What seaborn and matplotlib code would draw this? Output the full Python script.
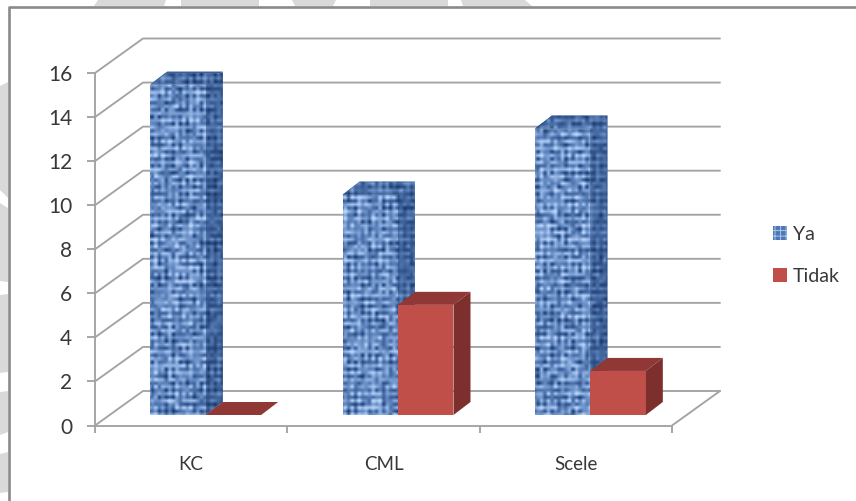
import numpy as np
import pandas as pd
import matplotlib
matplotlib.use("Agg")
import matplotlib.pyplot as plt
import seaborn as sns
from matplotlib.colors import LinearSegmentedColormap
from matplotlib.patches import Patch, Polygon
from matplotlib.transforms import Affine2D, IdentityTransform

categories = ["KC", "CML", "Scele"]
ya_values = [15, 10, 13]
tidak_values = [0, 5, 2]
series_names = ["Ya", "Tidak"]
y_ticks = [0, 2, 4, 6, 8, 10, 12, 14, 16]

W, H = 856, 501
GRID = "#a3a3a3"
TEXT = "#383838"
RED_FRONT, RED_TOP, RED_SIDE = "#c04f4a", "#8f3835", "#7c2f2d"

sns.set_theme(style="white")
plt.rcParams["font.family"] = ["Lato", "DejaVu Sans"]
plt.rcParams["hatch.color"] = "#a9c4ee"
plt.rcParams["hatch.linewidth"] = 0.7

df = pd.DataFrame({
    "category": categories * 2,
    "series": [series_names[0]] * 3 + [series_names[1]] * 3,
    "value": ya_values + tidak_values,
})

fig = plt.figure(figsize=(W / 100, H / 100), dpi=100, facecolor="white")
ax = fig.add_axes([95 / W, (H - 425.5) / H, 577 / W, 352.5 / H])
ax.patch.set_visible(False)


def px(x, y):
    """Pixel position measured from the top-left corner, as display coordinates."""
    return (x, H - y)


# Light page decoration behind the chart frame
page_shapes = [
    [(98, 0), (166, 0), (164, 6), (94, 6)],
    [(181, 0), (259, 0), (259, 6), (181, 6)],
    [(292, 0), (336, 0), (333, 6), (295, 6)],
    [(370, 0), (448, 0), (448, 6), (370, 6)],
    [(461, 0), (525, 0), (532, 6), (463, 6)],
    [(0, 86), (8, 82), (8, 198), (0, 190)],
    [(0, 203), (8, 208), (8, 282), (0, 281)],
    [(0, 295), (8, 294), (8, 372), (0, 373)],
    [(0, 392), (8, 391), (8, 432), (0, 435)],
    [(0, 454), (8, 452), (8, 492), (0, 493)],
]
for shape in page_shapes:
    fig.add_artist(Polygon([px(*p) for p in shape], closed=True, fc="#d9d9d9", ec="none",
                           transform=IdentityTransform(), zorder=0))

# Chart frame: only its left and top edges fall inside the figure
frame = [px(9, H), px(9, 7), px(W, 7)]
fig.add_artist(plt.Line2D(*zip(*frame), color="#8a8a8a", lw=1.9, transform=IdentityTransform(), zorder=1))

sns.barplot(data=df, x="category", y="value", hue="series", order=categories,
            hue_order=series_names, palette=["#5f86bd", RED_FRONT], width=0.577,
            gap=0, saturation=1, legend=False, ax=ax)
ax.set_xlim(-0.5, 2.5)
ax.set_ylim(0, 16)
ax.set_autoscale_on(False)
ax.set_xlabel("")
ax.set_ylabel("")

# Depth of the plot box and of the bars, in pixels
WALL_DX, WALL_DY = 48, 34.5
FRONT_DX, FRONT_DY = 14.5, 10.5
BAR_DX, BAR_DY = 17, 13

# Walls: gridlines run along the left wall, then across the back
for v in y_ticks:
    x0, y0 = ax.transData.transform((-0.5, v))
    x1, y1 = ax.transData.transform((2.5, v))
    xs = [x0, x0 + WALL_DX, x1 + WALL_DX]
    ys = [y0, y0 + WALL_DY, y1 + WALL_DY]
    ax.plot(xs, ys, color=GRID, lw=1.35, transform=IdentityTransform(), clip_on=False,
            zorder=1, solid_joinstyle="miter")
x1, y1 = ax.transData.transform((2.5, 0))
ax.plot([x1, x1 + WALL_DX], [y1, y1 + WALL_DY], color=GRID, lw=1.35,
        transform=IdentityTransform(), clip_on=False, zorder=1)

# Woven fabric fill for the first series: a hashed speckle over a thread grid
fabric_cmap = LinearSegmentedColormap.from_list(
    "fabric", ["#16305f", "#3f639b", "#6f95cc", "#a9c5ee", "#c4d9f7"])
CELL = 3.5
rows, cols = int(H / CELL) + 1, int(W / CELL) + 1
jj, ii = np.mgrid[0:rows, 0:cols].astype(float)
speckle = np.modf(np.abs(np.sin(ii * 12.9898 + jj * 78.233) * 43758.5453))[0]
threads = np.cos(np.pi * ii) * 0.10 + np.cos(np.pi * jj) * 0.14
fabric = 0.46 + 0.55 * (speckle - 0.5) + threads
extent = (0, cols * CELL, 0, rows * CELL)


def textured(poly, shade, zorder):
    img = ax.imshow(np.clip(fabric * shade, 0, 1), cmap=fabric_cmap, vmin=0, vmax=1,
                    extent=extent, origin="lower", aspect="auto", interpolation="bilinear",
                    transform=IdentityTransform(), zorder=zorder)
    img.set_clip_path(poly)


shift = Affine2D().translate(FRONT_DX, FRONT_DY)
for s, container in enumerate(ax.containers):
    z = 3 + s
    for bar in container:
        bar.set_transform(ax.transData + shift)
        bar.set_clip_on(False)
        bar.set_linewidth(0)
        bar.set_zorder(z + 0.2)
        bb = bar.get_window_extent()
        xl, xr, yb, yt = bb.x0, bb.x1, bb.y0, bb.y1
        top = Polygon([(xl, yt), (xr, yt), (xr + BAR_DX, yt + BAR_DY), (xl + BAR_DX, yt + BAR_DY)],
                      transform=IdentityTransform(), ec="none", clip_on=False, zorder=z)
        side = Polygon([(xr, yb), (xr + BAR_DX, yb + BAR_DY), (xr + BAR_DX, yt + BAR_DY), (xr, yt)],
                       transform=IdentityTransform(), ec="none", clip_on=False, zorder=z)
        ax.add_patch(top)
        ax.add_patch(side)
        if s == 0:
            top.set_facecolor("#3f5f94")
            side.set_facecolor("#304a78")
            textured(top, 0.66, z + 0.1)
            textured(side, 0.55, z + 0.1)
            front = Polygon([(xl, yb), (xr, yb), (xr, yt), (xl, yt)],
                            transform=IdentityTransform(), fc="none", ec="none")
            ax.add_patch(front)
            textured(front, 1.0, z + 0.3)
        else:
            top.set_facecolor(RED_TOP)
            side.set_facecolor(RED_SIDE)

# Axes and tick labels
for name in ("top", "right"):
    ax.spines[name].set_visible(False)
for name in ("left", "bottom"):
    ax.spines[name].set_color(GRID)
    ax.spines[name].set_linewidth(1.35)
    ax.spines[name].set_zorder(2)
ax.set_yticks(y_ticks)
ax.set_yticklabels([str(v) for v in y_ticks])
ax.tick_params(axis="y", left=True, length=5.8, width=1.35, color=GRID, pad=10.5,
               labelsize=15, labelcolor=TEXT)
ax.set_xticks(range(len(categories)))
ax.set_xticklabels(categories)
ax.tick_params(axis="x", which="major", bottom=False, pad=16, labelsize=13.5, labelcolor=TEXT)
ax.set_xticks([-0.5, 0.5, 1.5, 2.5], minor=True)
ax.tick_params(axis="x", which="minor", bottom=True, length=5.2, width=1.35, color=GRID)

handles = [Patch(fc="#5078b4", ec="#a9c4ee", lw=0, hatch="+++", label=series_names[0]),
           Patch(fc=RED_FRONT, ec="none", label=series_names[1])]
ax.legend(handles=handles, loc="center left", bbox_to_anchor=(773 / W, (H - 255.5) / H),
          bbox_transform=fig.transFigure, frameon=False, fontsize=14, labelcolor=TEXT,
          handlelength=0.72, handleheight=0.72, handletextpad=0.3, labelspacing=1.28,
          borderpad=0, borderaxespad=0)

fig.savefig("out.png", dpi=100)
